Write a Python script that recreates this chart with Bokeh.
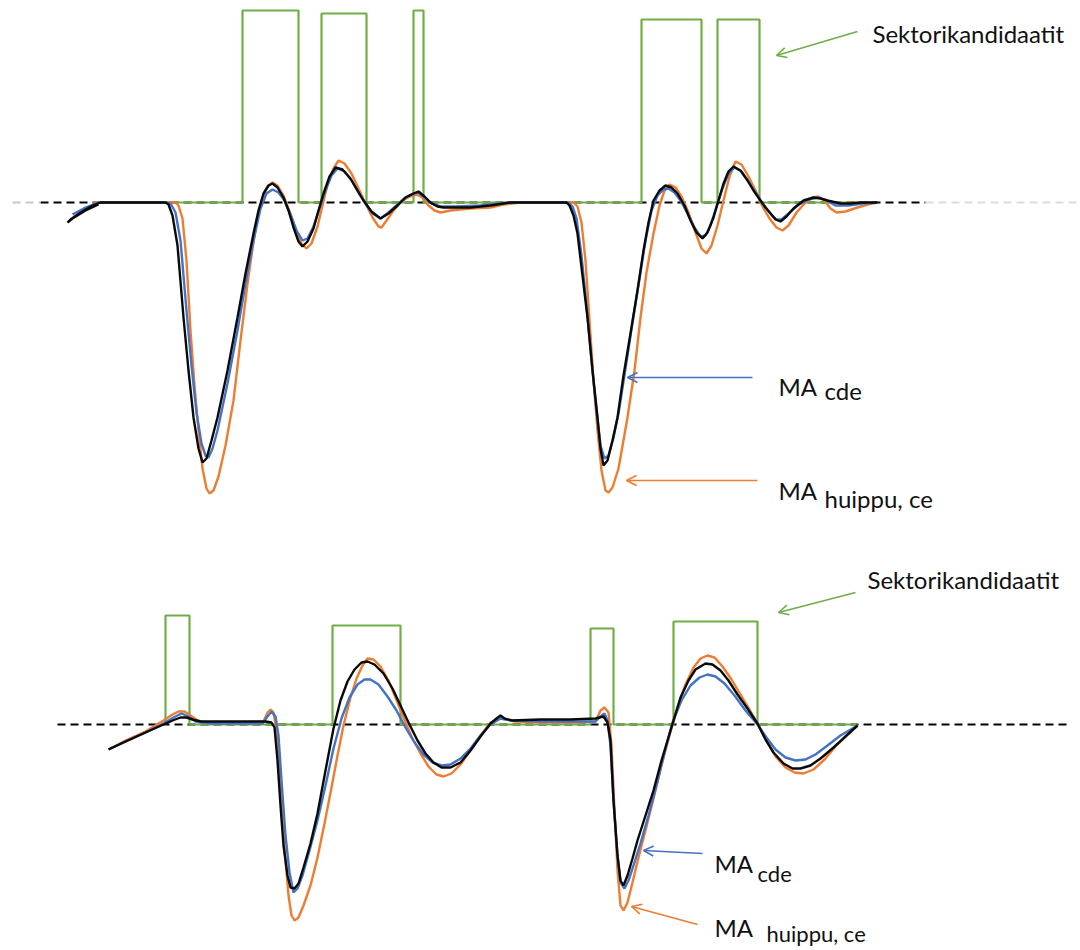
from bokeh.plotting import figure
from bokeh.layouts import column
from bokeh.models import Range1d, Arrow, OpenHead
from bokeh.core.properties import value
from bokeh.embed import file_html
from bokeh.resources import INLINE

# ---------------- DATA (time in samples, amplitude in arbitrary units, + = up) ----------------
# ---- Top panel ----
top_black_t = [98, 85, 72, 67, 70, 80, 92, 100, 130, 165, 168, 172, 177, 183, 188, 193, 198, 202, 206, 211, 217, 227, 237, 245, 253, 258, 263, 268, 272, 277, 283, 288, 293, 298, 302, 307, 313, 318, 323, 329, 335, 342, 350, 357, 363, 371, 380, 388, 397, 405, 413, 418, 424, 430, 437, 443, 455, 470, 490, 510, 540, 566, 569, 573, 577, 582, 587, 592, 597, 600, 603, 607, 612, 617, 623, 630, 637, 643, 648, 653, 659, 665, 671, 677, 684, 690, 696, 702, 707, 713, 718, 723, 728, 733, 740, 747, 753, 760, 765, 770, 775, 780, 786, 793, 803, 813, 820, 827, 840, 850, 860, 877]
top_black_v = [-2, -8, -16, -20, -17, -10, -3, 0, 0, 0, -2, -13, -43, -115, -168, -215, -246, -260, -256, -238, -215, -168, -115, -71, -31, -8, 9, 17, 19, 15, 5, -8, -25, -39, -44, -39, -26, -8, 9, 26, 35, 33, 24, 12, 2, -9, -16, -11, -3, 5, 9, 11, 6, 0, -4, -5, -5, -5, -3, 0, 0, 0, -3, -13, -31, -73, -115, -168, -215, -246, -263, -258, -238, -215, -173, -131, -88, -48, -20, 2, 12, 17, 15, 9, -3, -18, -30, -36, -30, -15, 2, 19, 31, 36, 32, 22, 12, 2, -5, -11, -17, -19, -14, -6, 2, 5, 4, 2, -1, -1, 0, 0]

top_blue_t = [72, 85, 98, 165, 170, 175, 180, 186, 191, 196, 201, 205, 208, 212, 217, 227, 237, 245, 253, 260, 266, 272, 278, 284, 290, 296, 302, 307, 313, 319, 325, 331, 337, 344, 351, 358, 365, 372, 380, 388, 397, 405, 413, 418, 424, 431, 440, 455, 480, 510, 568, 572, 576, 581, 586, 591, 596, 600, 604, 608, 613, 618, 625, 632, 639, 645, 651, 657, 663, 668, 674, 680, 687, 694, 700, 705, 710, 716, 722, 728, 734, 741, 748, 755, 762, 770, 776, 781, 788, 797, 808, 818, 826, 835, 848, 862, 877]
top_blue_v = [-12, -5, 0, 0, -1, -10, -38, -108, -163, -210, -241, -253, -255, -246, -228, -181, -128, -81, -38, -6, 9, 13, 10, 2, -12, -28, -38, -36, -24, -6, 12, 27, 34, 31, 22, 10, -1, -11, -16, -10, -2, 5, 9, 10, 5, -1, -4, -4, -3, 0, 0, -4, -16, -53, -103, -158, -208, -243, -256, -253, -235, -211, -166, -120, -76, -38, -8, 7, 13, 14, 10, 2, -11, -25, -34, -33, -23, -4, 14, 29, 35, 31, 21, 10, -1, -11, -17, -17, -11, -3, 3, 5, 2, -3, -3, -1, 0]

top_orange_t = [93, 175, 178, 182, 186, 190, 194, 198, 202, 206, 209, 213, 218, 225, 233, 240, 247, 252, 257, 262, 267, 272, 277, 283, 289, 295, 301, 306, 311, 317, 322, 327, 333, 338, 344, 351, 358, 365, 372, 378, 381, 386, 393, 401, 409, 416, 422, 428, 434, 440, 450, 470, 490, 503, 520, 573, 577, 581, 585, 589, 593, 597, 601, 605, 608, 612, 618, 627, 634, 640, 646, 653, 659, 664, 669, 675, 681, 688, 695, 701, 706, 711, 717, 723, 729, 735, 741, 748, 755, 762, 769, 776, 782, 788, 796, 805, 812, 818, 824, 830, 836, 845, 857, 867, 877]
top_orange_v = [0, 0, -3, -16, -58, -128, -183, -228, -266, -286, -291, -288, -274, -243, -198, -138, -81, -46, -15, 5, 16, 20, 17, 7, -9, -26, -41, -46, -41, -24, -3, 18, 34, 42, 39, 29, 14, -1, -15, -24, -25, -18, -8, 1, 6, 8, 5, -3, -8, -10, -8, -6, -5, -2, 0, 0, -4, -20, -58, -118, -178, -228, -268, -288, -290, -285, -266, -215, -168, -115, -70, -31, -3, 12, 18, 15, 6, -10, -30, -46, -51, -43, -23, 2, 26, 41, 38, 26, 12, -4, -16, -25, -28, -23, -10, 0, 5, 6, 2, -6, -10, -9, -5, -2, 0]

# Sector candidate windows (top)
top_sector_start = [242, 321, 413, 641, 717]
top_sector_end = [298, 366, 423, 701, 759]
top_sector_level = [192, 189, 192, 183, 183]
top_sector_span = [93, 876]

# ---- Bottom panel ----
bot_black_t = [108, 125, 145, 163, 172, 180, 186, 192, 200, 230, 265, 271, 274, 277, 280, 283, 287, 290, 294, 298, 303, 310, 317, 325, 333, 340, 347, 354, 361, 367, 374, 383, 392, 400, 408, 417, 425, 433, 441, 450, 460, 470, 480, 490, 496, 500, 504, 512, 540, 570, 595, 603, 607, 610, 613, 617, 620, 623, 627, 632, 637, 645, 653, 661, 670, 680, 688, 695, 705, 712, 720, 728, 737, 747, 757, 765, 773, 783, 792, 800, 810, 820, 833, 845, 857]
bot_black_v = [-25, -17, -8, 0, 4, 7, 7, 5, 3, 3, 3, 2, -3, -36, -81, -121, -151, -163, -164, -159, -143, -119, -89, -46, -4, 24, 43, 55, 62, 63, 60, 51, 36, 19, 2, -16, -29, -38, -43, -43, -38, -26, -12, 1, 6, 9, 6, 4, 5, 5, 6, 8, 2, -16, -76, -131, -156, -161, -151, -134, -116, -91, -66, -36, -6, 27, 44, 55, 61, 60, 54, 44, 30, 16, 1, -15, -28, -39, -44, -44, -41, -34, -23, -12, -1]

bot_blue_t = [110, 145, 163, 173, 181, 188, 195, 210, 240, 262, 267, 271, 275, 278, 281, 285, 289, 293, 297, 302, 309, 317, 325, 333, 341, 349, 357, 364, 370, 378, 387, 396, 405, 414, 423, 432, 441, 450, 460, 470, 480, 490, 500, 510, 540, 570, 595, 600, 604, 607, 610, 613, 617, 620, 624, 628, 633, 640, 648, 656, 664, 672, 681, 690, 699, 707, 715, 724, 734, 745, 757, 766, 775, 785, 795, 805, 815, 827, 840, 857]
bot_blue_v = [-24, -8, 1, 7, 11, 8, 3, 1, 1, 1, 8, 13, 8, -11, -56, -111, -148, -168, -164, -151, -126, -96, -61, -24, 6, 27, 40, 45, 45, 40, 28, 14, -3, -18, -30, -38, -41, -40, -34, -24, -11, 0, 6, 4, 3, 3, 3, 8, 11, 4, -21, -76, -131, -158, -164, -156, -141, -119, -91, -61, -28, 2, 24, 39, 47, 50, 48, 41, 29, 14, 0, -13, -25, -33, -36, -35, -30, -21, -11, -1]

bot_orange_t = [108, 125, 145, 163, 172, 178, 184, 190, 197, 205, 240, 263, 267, 270, 273, 276, 279, 282, 285, 288, 291, 294, 298, 303, 310, 317, 324, 331, 337, 343, 350, 356, 362, 367, 373, 380, 388, 395, 403, 411, 420, 428, 436, 443, 451, 460, 470, 480, 490, 500, 515, 545, 575, 595, 600, 604, 608, 611, 614, 617, 620, 623, 627, 632, 638, 645, 653, 661, 669, 677, 685, 693, 700, 707, 714, 722, 731, 740, 749, 757, 766, 775, 785, 794, 803, 813, 824, 835, 847, 857]
bot_orange_v = [-25, -16, -7, 4, 10, 13, 13, 9, 4, 2, 2, 3, 12, 15, 12, -6, -51, -96, -136, -171, -191, -196, -193, -181, -161, -133, -99, -63, -31, -1, 27, 46, 59, 66, 65, 58, 44, 27, 7, -12, -29, -42, -50, -52, -49, -40, -26, -11, 2, 6, 3, 2, 2, 3, 14, 17, 12, -21, -86, -146, -181, -186, -178, -158, -133, -106, -74, -41, -11, 17, 40, 57, 66, 69, 67, 58, 45, 30, 15, 1, -16, -32, -43, -48, -49, -45, -35, -22, -10, -1]

# Sector candidate windows (bottom)
bot_sector_start = [165, 332, 590, 673]
bot_sector_end = [189, 400, 613, 757]
bot_sector_level = [109, 99, 96, 103]
bot_sector_span = [165, 857]

# Labels
label_sector = "Sektorikandidaatit"
label_ma = "MA"
label_cde = "cde"
label_huippu = "huippu, ce"

# ---------------- STYLE ----------------
GREEN = "#70AD47"
BLUE = "#4472C4"
ORANGE = "#ED7D31"
BLACK = "#0a0a0a"
TXT = "#111111"
FONT = value("Lato")
LW = 2.4
X0, X1 = 0, 1080
W = X1 - X0


def step_path(starts, ends, levels, span):
    xs, ys = [span[0]], [0]
    for s, e, h in zip(starts, ends, levels):
        xs += [s, s, e, e]
        ys += [0, h, h, 0]
    xs.append(span[1])
    ys.append(0)
    return xs, ys


def make_fig(height, y0, y1):
    p = figure(width=W, height=height, x_range=Range1d(X0, X1), y_range=Range1d(y0, y1),
               x_axis_type=None, y_axis_type=None, toolbar_location=None,
               output_backend="svg", min_border=0)
    p.outline_line_color = None
    p.xgrid.visible = False
    p.ygrid.visible = False
    p.background_fill_color = "white"
    p.border_fill_color = "white"
    return p


# ---------------- TOP PANEL ----------------
top = make_fig(535, -333, 202)
top.line([40, 925], [0, 0], line_color="black", line_width=2, line_dash="8 5")
top.line([12, 40], [0, 0], line_color="#c8c8c8", line_width=2, line_dash="8 5")
top.line([925, 1080], [0, 0], line_color="#dddddd", line_width=2, line_dash="8 5")
gx, gy = step_path(top_sector_start, top_sector_end, top_sector_level, top_sector_span)
top.line(gx, gy, line_color=GREEN, line_width=2.2)
top.line(top_orange_t, top_orange_v, line_color=ORANGE, line_width=LW)
top.line(top_blue_t, top_blue_v, line_color=BLUE, line_width=LW)
top.line(top_black_t, top_black_v, line_color=BLACK, line_width=LW)

top.text(x=[872], y=[169], text=[label_sector], text_font=FONT, text_font_size="24px",
         text_baseline="middle", text_color=TXT)
top.text(x=[778, 778], y=[-184, -288], text=[label_ma, label_ma], text_font=FONT,
         text_font_size="24px", text_baseline="alphabetic", text_color=TXT)
top.text(x=[824, 824], y=[-188, -296], text=[label_cde, label_huippu], text_font=FONT,
         text_font_size="24px", text_baseline="alphabetic", text_color=TXT)
top.add_layout(Arrow(x_start=857, y_start=171, x_end=776, y_end=147, line_color=GREEN, line_width=1.6,
                     end=OpenHead(size=10, line_color=GREEN, line_width=1.6)))
top.add_layout(Arrow(x_start=752, y_start=-175, x_end=627, y_end=-175, line_color=BLUE, line_width=1.6,
                     end=OpenHead(size=10, line_color=BLUE, line_width=1.6)))
top.add_layout(Arrow(x_start=757, y_start=-278, x_end=626, y_end=-278, line_color=ORANGE, line_width=1.6,
                     end=OpenHead(size=10, line_color=ORANGE, line_width=1.6)))

# ---------------- BOTTOM PANEL ----------------
bot = make_fig(415, -226, 189)
bot.line([57, 1066], [0, 0], line_color="black", line_width=2, line_dash="8 5")
gx, gy = step_path(bot_sector_start, bot_sector_end, bot_sector_level, bot_sector_span)
bot.line(gx, gy, line_color=GREEN, line_width=2.2)
bot.line(bot_orange_t, bot_orange_v, line_color=ORANGE, line_width=LW)
bot.line(bot_blue_t, bot_blue_v, line_color=BLUE, line_width=LW)
bot.line(bot_black_t, bot_black_v, line_color=BLACK, line_width=LW)

bot.text(x=[867], y=[145], text=[label_sector], text_font=FONT, text_font_size="24px",
         text_baseline="middle", text_color=TXT)
bot.text(x=[714, 714], y=[-139, -203], text=[label_ma, label_ma], text_font=FONT,
         text_font_size="24px", text_baseline="alphabetic", text_color=TXT)
bot.text(x=[757, 766], y=[-149, -209], text=[label_cde, label_huippu], text_font=FONT,
         text_font_size="22px", text_baseline="alphabetic", text_color=TXT)
bot.add_layout(Arrow(x_start=855, y_start=132, x_end=778, y_end=112, line_color=GREEN, line_width=1.6,
                     end=OpenHead(size=10, line_color=GREEN, line_width=1.6)))
bot.add_layout(Arrow(x_start=702, y_start=-129, x_end=643, y_end=-126, line_color=BLUE, line_width=1.6,
                     end=OpenHead(size=10, line_color=BLUE, line_width=1.6)))
bot.add_layout(Arrow(x_start=697, y_start=-200, x_end=631, y_end=-182, line_color=ORANGE, line_width=1.6,
                     end=OpenHead(size=10, line_color=ORANGE, line_width=1.6)))

layout = column(top, bot, spacing=0)
open("out.html", "w").write(file_html(layout, INLINE))
